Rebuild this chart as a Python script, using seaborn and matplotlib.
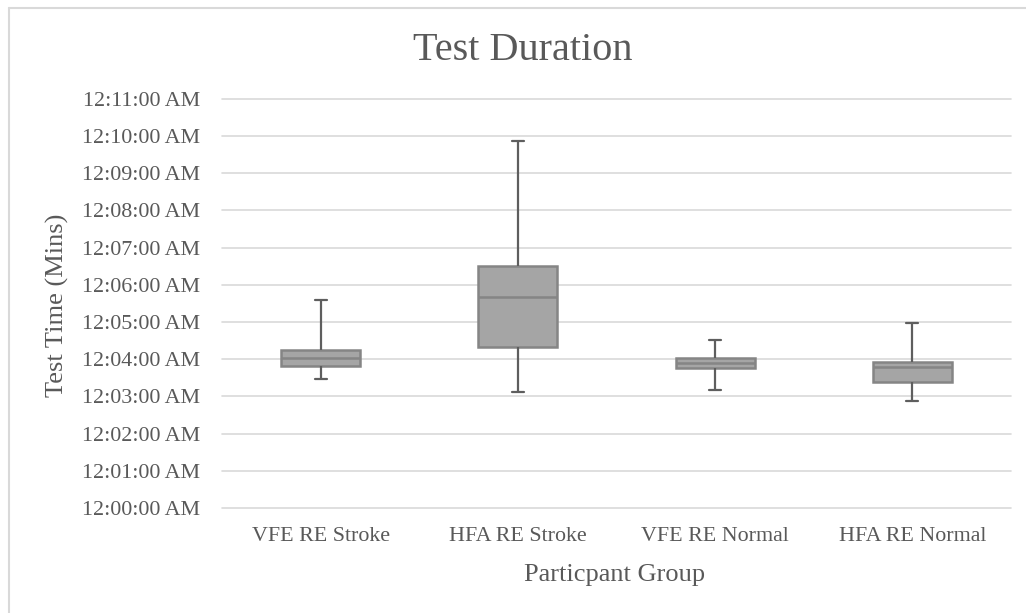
import matplotlib
matplotlib.use("Agg")
import matplotlib.pyplot as plt
from matplotlib.lines import Line2D
from matplotlib.ticker import FixedLocator, FuncFormatter
import seaborn as sns
import pandas as pd

# Five-number summaries (minutes after 12:00:00 AM): min, Q1, median, Q3, max
groups = ["VFE RE Stroke", "HFA RE Stroke", "VFE RE Normal", "HFA RE Normal"]
vfe_stroke = [3.46, 3.82, 4.04, 4.25, 5.59]
hfa_stroke = [3.13, 4.34, 5.68, 6.51, 9.87]
vfe_normal = [3.16, 3.76, 3.91, 4.04, 4.52]
hfa_normal = [2.88, 3.39, 3.79, 3.93, 4.98]
y_ticks = list(range(0, 12))

title = "Test Duration"
x_label = "Particpant Group"
y_label = "Test Time (Mins)"

series = [vfe_stroke, hfa_stroke, vfe_normal, hfa_normal]
df = pd.DataFrame(
    [(g, v) for g, vals in zip(groups, series) for v in vals],
    columns=["group", "minutes"],
)

W, H = 1026, 613
sns.set_theme(style="white")
plt.rcParams["font.family"] = ["Liberation Serif", "DejaVu Serif"]
text_color = "#595959"

fig = plt.figure(figsize=(W / 100, H / 100), dpi=100)
fig.patch.set_facecolor("white")
ax = fig.add_axes([222 / W, 1 - 508 / H, (1011 - 222) / W, (508 - 98.7) / H])

sns.boxplot(
    data=df, x="group", y="minutes", order=groups, ax=ax,
    whis=(0, 100), width=0.4, color="#A5A5A5", saturation=1,
    boxprops=dict(facecolor="#A5A5A5", edgecolor="#858585", linewidth=1.8),
    medianprops=dict(color="#858585", linewidth=1.8),
    whiskerprops=dict(color="#5E5E5E", linewidth=1.6),
    capprops=dict(color="#5E5E5E", linewidth=1.6),
    showfliers=False,
)

# Narrow the whisker caps
for ln in ax.lines:
    xd = list(ln.get_xdata())
    yd = list(ln.get_ydata())
    if len(xd) == 2 and abs(yd[0] - yd[1]) < 1e-9 and 0 < abs(xd[1] - xd[0]) < 0.35:
        c = (xd[0] + xd[1]) / 2
        ln.set_xdata([c - 0.03, c + 0.03])

ax.set_xlim(-0.5, 3.5)
ax.set_ylim(0, 11)
ax.yaxis.set_major_locator(FixedLocator(y_ticks))
ax.yaxis.set_major_formatter(FuncFormatter(lambda v, p: f"12:{int(round(v)):02d}:00 AM"))
ax.grid(axis="y", color="#D9D9D9", linewidth=1.2)
ax.grid(axis="x", visible=False)
for gl in ax.get_ygridlines():
    gl.set_clip_on(False)
ax.set_axisbelow(True)
for s in ax.spines.values():
    s.set_visible(False)
ax.tick_params(axis="both", length=0, labelsize=15.8, colors=text_color)
ax.tick_params(axis="y", pad=15.5)
ax.tick_params(axis="x", pad=14)
ax.set_xlabel("")
ax.set_ylabel("")

fig.text(523 / W, 1 - 60 / H, title, ha="center", va="baseline",
         fontsize=29, color=text_color)
fig.text(615 / W, 1 - 581 / H, x_label, ha="center", va="baseline",
         fontsize=19, color=text_color)
fig.text(57 / W, 1 - 305 / H, y_label, ha="center", va="center",
         rotation=90, fontsize=19, color=text_color)

# Chart border (left and top visible)
fig.add_artist(Line2D([8.5 / W, 8.5 / W], [0, 1 - 7.5 / H], transform=fig.transFigure,
                      color="#D9D9D9", linewidth=1.5))
fig.add_artist(Line2D([8.5 / W, 1], [1 - 7.5 / H, 1 - 7.5 / H], transform=fig.transFigure,
                      color="#D9D9D9", linewidth=1.5))

fig.savefig("out.png", dpi=100)
